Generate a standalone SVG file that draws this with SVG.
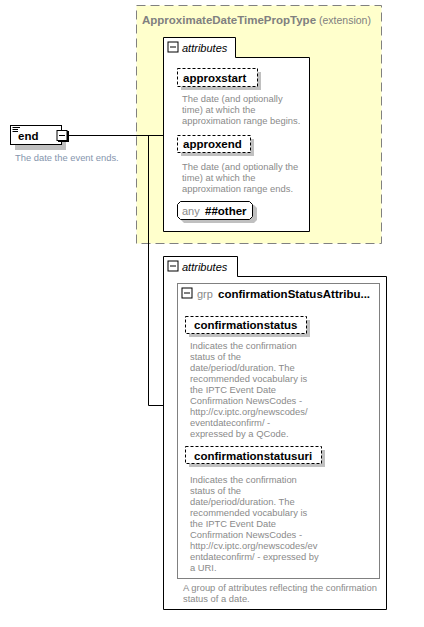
<svg xmlns="http://www.w3.org/2000/svg" width="424" height="627" viewBox="0 0 424 627">
<style>
.bold{font-family:"Liberation Sans",Arial,sans-serif;font-weight:bold;font-size:11.5px;fill:#000}
.desc{font-family:"Liberation Sans",Arial,sans-serif;font-size:9.4px;fill:#8a8a8a}
.ital{font-family:"Liberation Sans",Arial,sans-serif;font-style:italic;font-size:11px;fill:#000}
.gray{font-family:"Liberation Sans",Arial,sans-serif;font-size:11px;fill:#8a8a8a}
.shadow{fill:#c0c0c0;stroke:none}
.attr{fill:#fff;stroke:#000;stroke-width:1;stroke-dasharray:3,2}
.box{fill:#fff;stroke:#000;stroke-width:1}
.icon{fill:#fff;stroke:#000;stroke-width:1}
.conn{fill:none;stroke:#000;stroke-width:1}
</style>
<defs>
<g id="minus">
<rect x="0.5" y="0.5" width="10" height="10" class="icon"/>
<line x1="2.5" y1="5.5" x2="8.5" y2="5.5" stroke="#000"/>
</g>
</defs>
<rect width="424" height="627" fill="#fff"/>

<g id="extension">
<rect x="136.5" y="5.5" width="245" height="238" fill="#ffffcc" stroke="#808080" stroke-dasharray="9,5"/>
<text x="142" y="24" style="font-family:'Liberation Sans',Arial,sans-serif;font-size:11.5px;fill:#808080"><tspan font-weight="bold">ApproximateDateTimePropType</tspan><tspan font-size="10.5px"> (extension)</tspan></text>
</g>

<g id="connectors">
<line x1="62" y1="135.5" x2="163.5" y2="135.5" class="conn"/>
<polyline points="148.5,135.5 148.5,405.5 163.5,405.5" class="conn"/>
</g>

<g id="end">
<rect x="15" y="130" width="51" height="20" class="shadow"/>
<rect x="10.5" y="125.5" width="51" height="19" class="box"/>
<line x1="12.5" y1="127.5" x2="20" y2="127.5" stroke="#000"/>
<line x1="12.5" y1="129.5" x2="18" y2="129.5" stroke="#000"/>
<line x1="12.5" y1="131.5" x2="18" y2="131.5" stroke="#000"/>
<text x="18" y="140" class="bold" font-size="12.5px">end</text>
<rect x="58" y="131" width="11" height="11" fill="#000"/>
<use href="#minus" x="56.5" y="130"/>
<text x="15" y="161" class="desc" fill="#8595ad" style="fill:#8595ad">The date the event ends.</text>
</g>

<g id="attributes1">
<path d="M163.5,231.5 V37.5 H235.5 V57.5 H309.5 V231.5 Z" class="box"/>
<use href="#minus" x="167.5" y="41.5"/>
<text x="182" y="51.5" class="ital">attributes</text>
</g>

<g id="approxstart">
<rect x="181" y="72" width="80" height="18" class="shadow"/>
<rect x="177.5" y="68.5" width="80" height="18" class="attr"/>
<text x="183" y="81.5" class="bold">approxstart</text>
<text class="desc"><tspan x="182" y="101.5">The date (and optionally</tspan><tspan x="182" y="112.5">time) at which the</tspan><tspan x="182" y="123.5">approximation range begins.</tspan></text>
</g>

<g id="approxend">
<rect x="181" y="139" width="73" height="17" class="shadow"/>
<rect x="177.5" y="135.5" width="73" height="17" class="attr"/>
<text x="183" y="148" class="bold">approxend</text>
<text class="desc"><tspan x="182" y="169.5">The date (and optionally the</tspan><tspan x="182" y="180.5">time) at which the</tspan><tspan x="182" y="191.5">approximation range ends.</tspan></text>
</g>

<g id="anyother">
<path d="M184,205 H254 L257,208 V220 L254,223 H184 L181,220 V208 Z" class="shadow"/>
<path d="M180.5,201.5 H249.5 L252.5,204.5 V216.5 L249.5,219.5 H180.5 L177.5,216.5 V204.5 Z" class="box"/>
<text x="182" y="214.5" class="gray">any</text>
<text x="205" y="214.5" class="bold">##other</text>
</g>

<g id="attributes2">
<path d="M163.5,609.5 V256.5 H237.5 V276.5 H386.5 V609.5 Z" class="box"/>
<use href="#minus" x="167.5" y="260.5"/>
<text x="182" y="270.5" class="ital">attributes</text>
</g>

<g id="grp">
<rect x="177.5" y="283.5" width="202" height="295" fill="#fff" stroke="#808080"/>
<use href="#minus" x="181.5" y="287.5"/>
<text x="197" y="298" class="gray">grp</text>
<text x="218" y="298" class="bold">confirmationStatusAttribu...</text>
<text class="desc"><tspan x="183" y="590.5">A group of attributes reflecting the confirmation</tspan><tspan x="183" y="601.5">status of a date.</tspan></text>
</g>

<g id="confirmationstatus">
<rect x="189" y="320" width="121" height="17" class="shadow"/>
<rect x="185.5" y="316.5" width="121" height="17" class="attr"/>
<text x="194" y="329" class="bold">confirmationstatus</text>
<text class="desc"><tspan x="190" y="349">Indicates the confirmation</tspan><tspan x="190" y="360">status of the</tspan><tspan x="190" y="371">date/period/duration. The</tspan><tspan x="190" y="382">recommended vocabulary is</tspan><tspan x="190" y="393">the IPTC Event Date</tspan><tspan x="190" y="404">Confirmation NewsCodes -</tspan><tspan x="190" y="415">http://cv.iptc.org/newscodes/</tspan><tspan x="190" y="426">eventdateconfirm/ -</tspan><tspan x="190" y="437">expressed by a QCode.</tspan></text>
</g>

<g id="confirmationstatusuri">
<rect x="189" y="450" width="136" height="17" class="shadow"/>
<rect x="185.5" y="446.5" width="136" height="17" class="attr"/>
<text x="194" y="460" class="bold">confirmationstatusuri</text>
<text class="desc"><tspan x="190" y="482.5">Indicates the confirmation</tspan><tspan x="190" y="493.5">status of the</tspan><tspan x="190" y="504.5">date/period/duration. The</tspan><tspan x="190" y="515.5">recommended vocabulary is</tspan><tspan x="190" y="526.5">the IPTC Event Date</tspan><tspan x="190" y="537.5">Confirmation NewsCodes -</tspan><tspan x="190" y="548.5">http://cv.iptc.org/newscodes/ev</tspan><tspan x="190" y="559.5">entdateconfirm/ - expressed by</tspan><tspan x="190" y="570.5">a URI.</tspan></text>
</g>
</svg>
